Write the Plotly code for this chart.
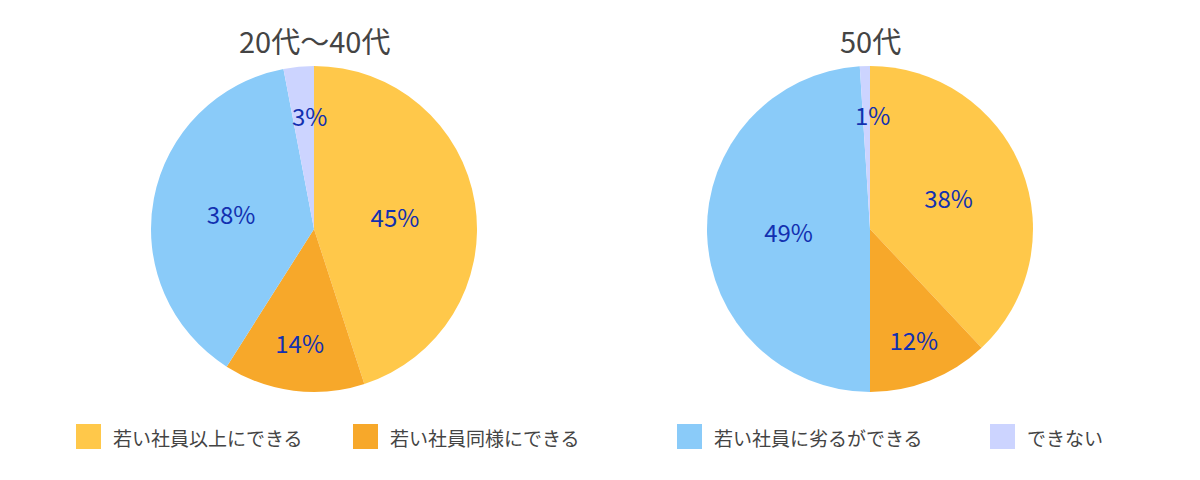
import math
import plotly.graph_objects as go

categories = ["若い社員以上にできる", "若い社員同様にできる", "若い社員に劣るができる", "できない"]
groups = ["20代〜40代", "50代"]
values_2040 = [45, 14, 38, 3]
values_50 = [38, 12, 49, 1]
colors = ["#FFC84A", "#F7A82A", "#8ACBF9", "#CCD4FF"]

FONT = "Noto Sans CJK JP"
LABEL_COLOR = "#1230B0"
W, H = 1200, 480
R_PX = 163
SMALL = 5

fig = go.Figure()
domains = [[151 / W, 477 / W], [707 / W, 1033 / W]]
ydom = [1 - 392 / H, 1 - 66 / H]
for vals, dx, name in zip([values_2040, values_50], domains, groups):
    tmpl = ["%{value}%" if v >= SMALL else "" for v in vals]
    fig.add_trace(go.Pie(
        labels=categories, values=vals, sort=False, direction="clockwise",
        rotation=0, marker=dict(colors=colors, line=dict(width=0)),
        texttemplate=tmpl, textposition="inside",
        insidetextorientation="horizontal",
        textfont=dict(family=FONT, size=24, color=LABEL_COLOR),
        domain=dict(x=dx, y=ydom), showlegend=False, hoverinfo="label+value",
        name=name,
    ))
    cx = (dx[0] + dx[1]) / 2
    cy = (ydom[0] + ydom[1]) / 2
    fig.add_annotation(text=name, x=cx, y=1 - 40 / H,
                       xref="paper", yref="paper", showarrow=False,
                       xanchor="center", yanchor="middle",
                       font=dict(family=FONT, size=29, color="#444444"))
    # labels for thin slices, placed along their mid-angle
    total = sum(vals)
    cum = 0
    for v in vals:
        mid = (cum + v / 2) / total * 2 * math.pi
        cum += v
        if v < SMALL:
            rr = 0.7 * R_PX
            fig.add_annotation(text=f"{v}%", x=cx + rr * math.sin(mid) / W,
                               y=cy + rr * math.cos(mid) / H,
                               xref="paper", yref="paper", showarrow=False,
                               xanchor="center", yanchor="middle", xshift=6,
                               font=dict(family=FONT, size=24, color=LABEL_COLOR))

sq_x = [76, 353, 677, 990]
for cat, col, x in zip(categories, colors, sq_x):
    fig.add_shape(type="rect", xref="paper", yref="paper",
                  x0=x / W, x1=(x + 25) / W, y0=1 - 449 / H, y1=1 - 424 / H,
                  fillcolor=col, line=dict(width=0))
    fig.add_annotation(text=cat, x=(x + 35) / W, y=1 - 437 / H, xref="paper", yref="paper",
                       xanchor="left", yanchor="middle", showarrow=False,
                       font=dict(family=FONT, size=19, color="#444444"))

fig.update_layout(width=W, height=H, margin=dict(l=0, r=0, t=0, b=0),
                  paper_bgcolor="white", plot_bgcolor="white")
fig.write_html("out.html", config={"displayModeBar": False},
               post_script="document.body.style.margin='0';")
